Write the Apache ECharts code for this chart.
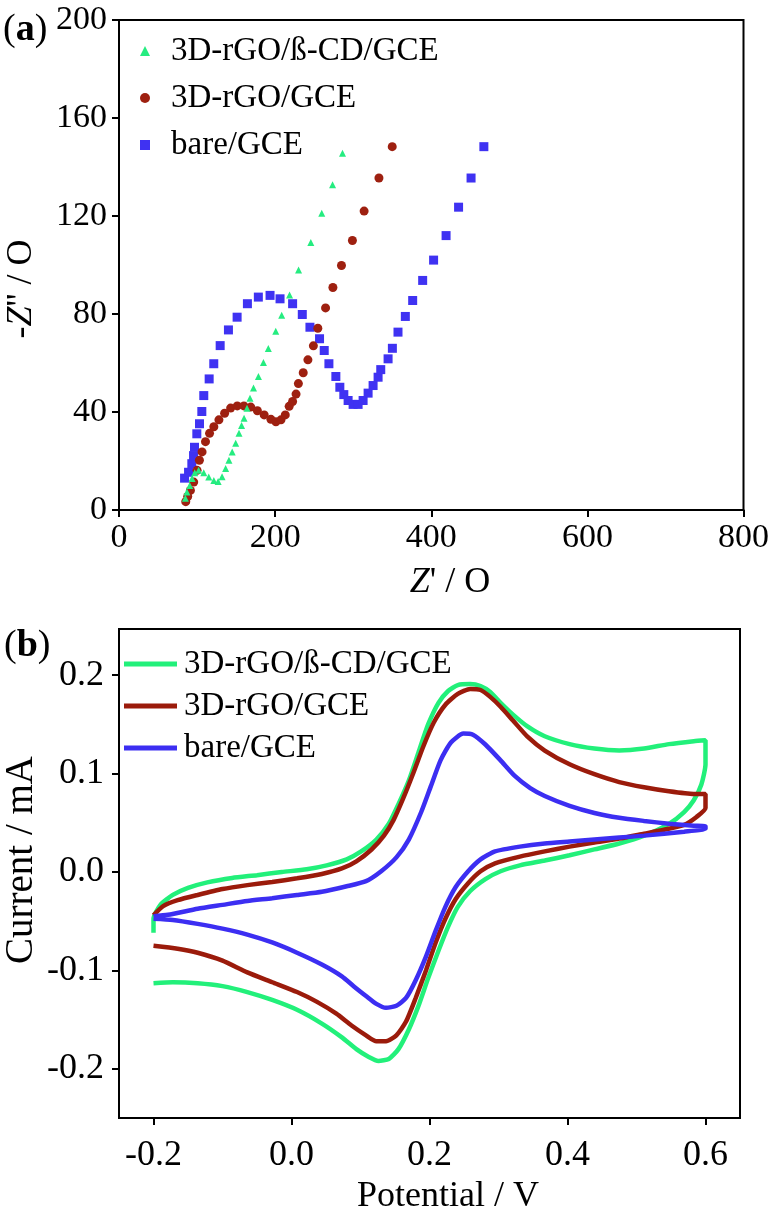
<!DOCTYPE html>
<html>
<head>
<meta charset="utf-8">
<script src="https://cdn.jsdelivr.net/npm/echarts@6/dist/echarts.min.js"></script>
<style>
html,body{margin:0;padding:0;background:#fff;}
#chart{width:772px;height:1212px;}
</style>
</head>
<body>
<div id="chart"></div>
<script>
// ---------- Names ----------
var seriesNames = ['3D-rGO/ß-CD/GCE', '3D-rGO/GCE', 'bare/GCE'];

// ---------- Panel (a): Nyquist plot, [Z', -Z''] ----------
var eisBetaCD = [[85,4.8],[87,7.3],[90.6,10],[93.6,12.9],[97,15.2],[102,16.2],[108.6,15.2],[115,13.5],[121.5,12],[127,11.6],[132,13.6],[136.6,16.9],[140.8,20.3],[145,23.7],[149.5,27.2],[153.7,31.3],[157,34.5],[160.2,37.5],[164,41.5],[167.8,45.6],[172.3,49.8],[178.6,54.5],[185,60.2],[191.3,65.9],[200.8,73],[208.4,79.5],[218.5,87.8],[230,98],[245.7,109.2],[259.7,121.1],[273.6,132.8],[286.3,145.6]];
var eisRGO = [[85.5,3.4],[88,5.5],[91.5,8],[95.7,11.4],[100,16.2],[103,20.3],[106.4,23.7],[110.8,27.9],[116,31.3],[121.5,34],[128,36.8],[135.3,39.5],[143,41.6],[151.5,42.5],[160,42.5],[168.8,42],[177.3,40.5],[186,38.8],[194.6,37],[201,36],[207.5,36.8],[213,38.8],[218,42.3],[222.4,44.3],[226.8,47.3],[229.8,51.6],[236,56],[242,61.3],[249,67],[254.7,74.2],[264.6,82.5],[274,90.8],[285,99.8],[299,110],[314,122],[333,135.5],[350,148.3]];
var eisBare = [[84,13],[89.1,15.4],[93.3,18.9],[95.5,22.2],[96.7,25.6],[99.7,31.1],[103.1,35.2],[106.1,40.2],[108.6,46.7],[115.5,53.5],[121.4,59.7],[129.6,67.1],[140.2,73.5],[151.3,78.7],[164.5,84.2],[178.5,86.9],[193.5,87.6],[206.3,86.2],[222.4,84.2],[234.8,79.8],[244.6,74.6],[256.9,69.9],[262.9,65.1],[268.9,59.7],[277.8,54.5],[282.9,50.1],[288,47.1],[293.5,44.7],[299.9,43.1],[306.3,43.1],[312.7,44.7],[319.1,47.7],[325.5,50.8],[331.9,54.2],[335.3,57.3],[344.7,61.7],[350.2,66],[357.4,72.6],[366.8,79],[376.2,85.5],[389,93.7],[403,102],[419,112],[435,123.6],[451,135.5],[467.4,148.3]];
var eisXTicks = [0, 200, 400, 600, 800];
var eisYTicks = [0, 40, 80, 120, 160, 200];

// ---------- Panel (b): cyclic voltammograms, [Potential V, Current mA] ----------
var cvBetaCD = [[-0.2,-0.0616],[-0.2,-0.0475],[-0.19,-0.0334],[-0.172,-0.0233],[-0.15,-0.0161],[-0.122,-0.0105],[-0.086,-0.006],[-0.05,-0.0032],[-0.014,0],[0.022,0.0028],[0.051,0.0068],[0.08,0.0129],[0.101,0.0209],[0.123,0.033],[0.141,0.049],[0.155,0.069],[0.17,0.093],[0.184,0.1215],[0.198,0.15],[0.213,0.172],[0.227,0.184],[0.241,0.19],[0.259,0.191],[0.274,0.189],[0.288,0.183],[0.303,0.172],[0.321,0.16],[0.342,0.148],[0.367,0.138],[0.403,0.13],[0.439,0.1255],[0.475,0.1235],[0.511,0.1255],[0.547,0.13],[0.583,0.133],[0.6,0.134],
  [0.6,0.1095],[0.594,0.089],[0.583,0.073],[0.569,0.061],[0.547,0.049],[0.511,0.037],[0.475,0.029],[0.439,0.023],[0.403,0.017],[0.367,0.0117],[0.331,0.0068],[0.303,0.0008],[0.281,-0.0072],[0.259,-0.0193],[0.241,-0.0354],[0.227,-0.0555],[0.213,-0.08],[0.198,-0.108],[0.184,-0.136],[0.17,-0.16],[0.155,-0.18],[0.141,-0.19],[0.126,-0.192],[0.112,-0.188],[0.094,-0.18],[0.073,-0.168],[0.044,-0.154],[0.008,-0.14],[-0.028,-0.13],[-0.064,-0.122],[-0.1,-0.116],[-0.136,-0.113],[-0.172,-0.112],[-0.2,-0.113]];
var cvRGO = [[-0.2,-0.044],[-0.186,-0.0346],[-0.165,-0.0286],[-0.136,-0.0233],[-0.1,-0.0173],[-0.064,-0.0133],[-0.028,-0.0101],[0.008,-0.0064],[0.044,-0.002],[0.073,0.0036],[0.094,0.0109],[0.116,0.0229],[0.134,0.037],[0.148,0.053],[0.162,0.075],[0.177,0.1014],[0.191,0.1276],[0.206,0.1517],[0.223,0.17],[0.241,0.181],[0.259,0.186],[0.274,0.185],[0.288,0.178],[0.303,0.168],[0.321,0.154],[0.342,0.1376],[0.367,0.1235],[0.403,0.1095],[0.439,0.0994],[0.475,0.0914],[0.511,0.0861],[0.547,0.082],[0.583,0.0793],[0.6,0.0793],
  [0.6,0.065],[0.587,0.056],[0.569,0.048],[0.54,0.043],[0.511,0.039],[0.475,0.034],[0.439,0.03],[0.403,0.0258],[0.367,0.021],[0.331,0.0157],[0.295,0.0089],[0.274,0.0008],[0.256,-0.0113],[0.238,-0.0274],[0.223,-0.0475],[0.209,-0.0716],[0.195,-0.0998],[0.18,-0.128],[0.166,-0.152],[0.152,-0.166],[0.137,-0.172],[0.123,-0.172],[0.108,-0.166],[0.087,-0.156],[0.065,-0.144],[0.037,-0.132],[0.008,-0.122],[-0.028,-0.112],[-0.064,-0.102],[-0.1,-0.09],[-0.136,-0.082],[-0.165,-0.078],[-0.2,-0.075]];
var cvBare = [[-0.2,-0.045],[-0.179,-0.0435],[-0.136,-0.0374],[-0.1,-0.0334],[-0.064,-0.0294],[-0.028,-0.0266],[0.008,-0.0233],[0.044,-0.0201],[0.08,-0.0145],[0.108,-0.0093],[0.13,0.0008],[0.152,0.0149],[0.17,0.033],[0.188,0.061],[0.202,0.0873],[0.216,0.1135],[0.231,0.1316],[0.249,0.1408],[0.263,0.1396],[0.281,0.1296],[0.303,0.1135],[0.324,0.0974],[0.346,0.0853],[0.367,0.0773],[0.403,0.0672],[0.439,0.06],[0.475,0.0551],[0.511,0.0519],[0.547,0.0491],[0.583,0.0471],[0.6,0.0463],
  [0.6,0.0439],[0.569,0.041],[0.511,0.037],[0.475,0.035],[0.439,0.033],[0.403,0.031],[0.367,0.029],[0.331,0.0258],[0.295,0.021],[0.274,0.0129],[0.256,0.0008],[0.238,-0.0153],[0.223,-0.0354],[0.209,-0.0596],[0.195,-0.0857],[0.18,-0.11],[0.166,-0.128],[0.152,-0.136],[0.137,-0.138],[0.123,-0.134],[0.108,-0.126],[0.09,-0.116],[0.073,-0.106],[0.044,-0.094],[0.008,-0.082],[-0.028,-0.0716],[-0.064,-0.0636],[-0.1,-0.0575],[-0.136,-0.0527],[-0.172,-0.0487],[-0.2,-0.0475]];
var cvXTicks = [-0.2, 0.0, 0.2, 0.4, 0.6];
var cvYTicks = [-0.2, -0.1, 0.0, 0.1, 0.2];

// ---------- Styling ----------
var FONT = 'Liberation Serif';
var scatterColors = ['#25EC80', '#9E2010', '#3F32F2'];
var lineColors = ['#22F07A', '#9B1B0B', '#3C2EF2'];

var chart = echarts.init(document.getElementById('chart'), null, {renderer: 'canvas'});

function axisCommon(extra) {
  var base = {
    axisLine: {show: true, onZero: false, lineStyle: {color: '#000', width: 2}},
    axisTick: {show: true, inside: false, length: 7, lineStyle: {color: '#000', width: 2}},
    splitLine: {show: false},
    axisLabel: {color: '#000', fontFamily: FONT}
  };
  for (var k in extra) {
    if (typeof extra[k] === 'object' && base[k] && !Array.isArray(extra[k])) {
      base[k] = Object.assign({}, base[k], extra[k]);
    } else base[k] = extra[k];
  }
  return base;
}

var option = {
  backgroundColor: '#fff',
  animation: false,
  grid: [
    {left: 119, right: 26, top: 20, height: 490, show: true, borderColor: '#000', borderWidth: 2, backgroundColor: 'transparent'},
    {left: 119, right: 32, top: 629, height: 489, show: true, borderColor: '#000', borderWidth: 2, backgroundColor: 'transparent'}
  ],
  xAxis: [
    axisCommon({type: 'value', gridIndex: 0, min: eisXTicks[0], max: eisXTicks[eisXTicks.length - 1], interval: 200,
      axisLabel: {fontSize: 34, margin: 11}}),
    axisCommon({type: 'value', gridIndex: 1, min: -0.25, max: 0.65,
      axisTick: {customValues: cvXTicks},
      axisLabel: {fontSize: 36, margin: 13, padding: [7, 0, 0, 0], customValues: cvXTicks, formatter: function (v) { return v.toFixed(1); }}})
  ],
  yAxis: [
    axisCommon({type: 'value', gridIndex: 0, min: eisYTicks[0], max: eisYTicks[eisYTicks.length - 1], interval: 40,
      axisLabel: {fontSize: 34, margin: 12}}),
    axisCommon({type: 'value', gridIndex: 1, min: -0.25, max: 0.247,
      axisTick: {customValues: cvYTicks},
      axisLabel: {fontSize: 36, margin: 15, customValues: cvYTicks, formatter: function (v) { return v.toFixed(1); }}})
  ],
  legend: [
    {
      orient: 'vertical', left: 135, top: 28, itemGap: 11, itemWidth: 10, itemHeight: 10,
      selectedMode: false,
      textStyle: {fontFamily: FONT, fontSize: 33, color: '#000', lineHeight: 36, padding: [0, 0, 0, 16]},
      data: [
        {name: seriesNames[0], icon: 'triangle', itemStyle: {color: scatterColors[0]}},
        {name: seriesNames[1], icon: 'circle', itemStyle: {color: scatterColors[1]}},
        {name: seriesNames[2], icon: 'rect', itemStyle: {color: scatterColors[2]}}
      ]
    },
    {
      orient: 'vertical', left: 119, top: 641, itemGap: 6, itemWidth: 53, itemHeight: 5,
      selectedMode: false,
      textStyle: {fontFamily: FONT, fontSize: 33, color: '#000', lineHeight: 36, padding: [0, 0, 0, 2]},
      data: [
        {name: seriesNames[0], icon: 'rect', itemStyle: {color: lineColors[0]}},
        {name: seriesNames[1], icon: 'rect', itemStyle: {color: lineColors[1]}},
        {name: seriesNames[2], icon: 'rect', itemStyle: {color: lineColors[2]}}
      ]
    }
  ],
  series: [
    {name: seriesNames[2], type: 'scatter', xAxisIndex: 0, yAxisIndex: 0, symbol: 'rect', symbolSize: 9,
      itemStyle: {color: scatterColors[2], opacity: 1}, data: eisBare},
    {name: seriesNames[1], type: 'scatter', xAxisIndex: 0, yAxisIndex: 0, symbol: 'circle', symbolSize: 9,
      itemStyle: {color: scatterColors[1], opacity: 1}, data: eisRGO},
    {name: seriesNames[0], type: 'scatter', xAxisIndex: 0, yAxisIndex: 0, symbol: 'triangle', symbolSize: 7,
      itemStyle: {color: scatterColors[0], opacity: 1}, data: eisBetaCD},
    {name: seriesNames[0], type: 'line', xAxisIndex: 1, yAxisIndex: 1, showSymbol: false, smooth: 0.2,
      lineStyle: {color: lineColors[0], width: 4.5}, itemStyle: {color: lineColors[0]}, data: cvBetaCD},
    {name: seriesNames[1], type: 'line', xAxisIndex: 1, yAxisIndex: 1, showSymbol: false, smooth: 0.2,
      lineStyle: {color: lineColors[1], width: 4.5}, itemStyle: {color: lineColors[1]}, data: cvRGO},
    {name: seriesNames[2], type: 'line', xAxisIndex: 1, yAxisIndex: 1, showSymbol: false, smooth: 0.2,
      lineStyle: {color: lineColors[2], width: 4.5}, itemStyle: {color: lineColors[2]}, data: cvBare}
  ],
  graphic: [
    {type: 'text', left: 3, top: 11, style: {text: '{n|(}{b|a}{n|)}', rich: {n: {fontFamily: FONT, fontSize: 38, fill: '#000'}, b: {fontFamily: FONT, fontSize: 38, fontWeight: 'bold', fill: '#000'}}}},
    {type: 'text', left: 4, top: 627, style: {text: '{n|(}{b|b}{n|)}', rich: {n: {fontFamily: FONT, fontSize: 38, fill: '#000'}, b: {fontFamily: FONT, fontSize: 38, fontWeight: 'bold', fill: '#000'}}}},
    {type: 'text', x: 22, y: 289, rotation: Math.PI / 2,
      style: {text: '{n|-}{i|Z}{n|\'\' / O}', align: 'center', verticalAlign: 'middle',
        rich: {n: {fontFamily: FONT, fontSize: 36, fill: '#000'}, i: {fontFamily: FONT, fontSize: 36, fontStyle: 'italic', fill: '#000'}}}},
    {type: 'text', x: 450, y: 583,
      style: {text: '{i|Z}{n|\' / O}', align: 'center', verticalAlign: 'middle',
        rich: {n: {fontFamily: FONT, fontSize: 36, fill: '#000'}, i: {fontFamily: FONT, fontSize: 36, fontStyle: 'italic', fill: '#000'}}}},
    {type: 'text', x: 22, y: 860, rotation: Math.PI / 2,
      style: {text: 'Current / mA', align: 'center', verticalAlign: 'middle', fontFamily: FONT, fontSize: 39, fill: '#000'}},
    {type: 'text', x: 448, y: 1197,
      style: {text: 'Potential / V', align: 'center', verticalAlign: 'middle', fontFamily: FONT, fontSize: 36, fill: '#000'}}
  ]
};
chart.setOption(option);
</script>
</body>
</html>
